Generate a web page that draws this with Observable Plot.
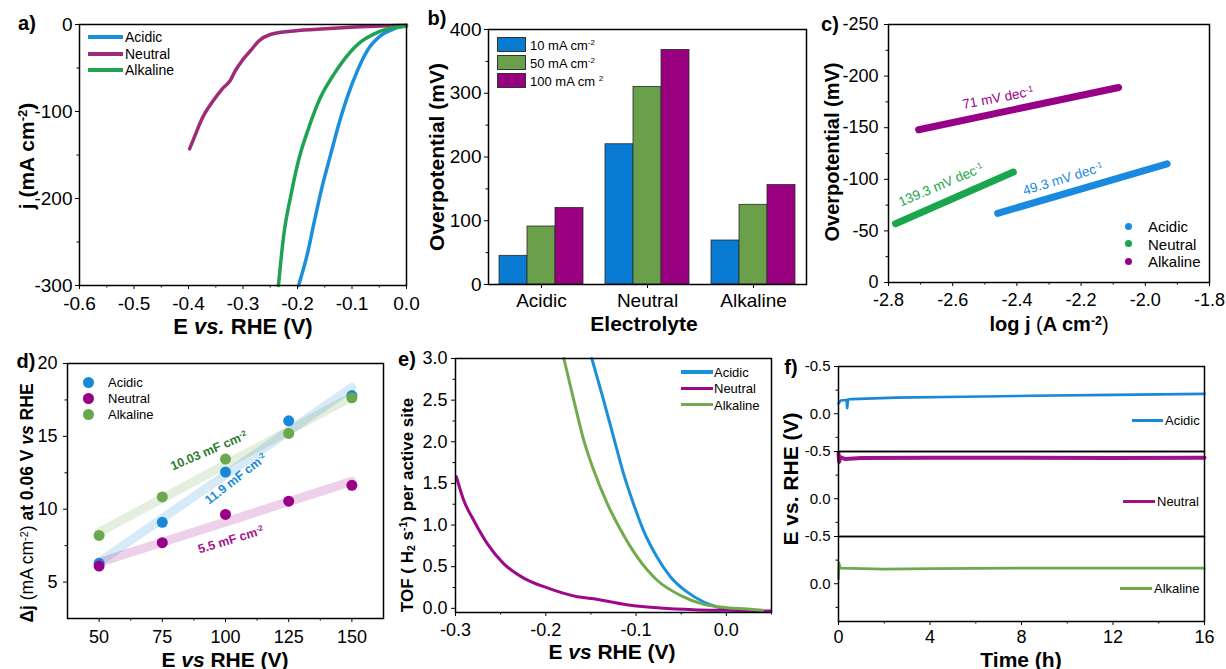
<!DOCTYPE html>
<html>
<head>
<meta charset="utf-8">
<script src="https://cdn.jsdelivr.net/npm/d3@7"></script>
<script src="https://cdn.jsdelivr.net/npm/@observablehq/plot@0.6"></script>
<style>
  html, body { margin: 0; padding: 0; background: #fff; overflow: hidden; }
  #fig { position: relative; width: 1226px; height: 669px; background: #fff; }
  #fig sup { font-size: 0.62em; vertical-align: 0.5em; line-height: 0; }
  #fig sub { font-size: 0.62em; vertical-align: -0.25em; line-height: 0; }
</style>
</head>
<body>
<div id="fig"></div>
<script>
// ---------------- DATA ----------------
const seriesNames = ["Acidic", "Neutral", "Alkaline"];

// (a) LSV curves: potential (V) and current density (mA cm-2)
const lsvAcidicE = [-0.198, -0.182, -0.170, -0.155, -0.139, -0.124, -0.109, -0.090, -0.072, -0.048, -0.023, 0.0];
const lsvAcidicJ = [-300, -264, -229, -187, -149, -114, -84, -53, -30, -13, -5, -1];
const lsvNeutralE = [-0.398, -0.387, -0.378, -0.369, -0.354, -0.338, -0.323, -0.314, -0.301, -0.286, -0.271, -0.250, -0.213, -0.164, -0.103, 0.0];
const lsvNeutralJ = [-143, -126, -112, -101, -87, -74, -64, -53, -41, -30, -19, -11.5, -7.7, -5.4, -3.1, -0.8];
const lsvAlkalineE = [-0.235, -0.225, -0.213, -0.198, -0.179, -0.158, -0.133, -0.109, -0.084, -0.060, -0.035, 0.0];
const lsvAlkalineJ = [-300, -241, -199, -156, -118, -84, -57, -36, -20, -11, -5, -2];
const aXTicks = [-0.6, -0.5, -0.4, -0.3, -0.2, -0.1, 0.0];
const aXMinor = [-0.55, -0.45, -0.35, -0.25, -0.15, -0.05];
const aYTicks = [0, -100, -200, -300];
const aYMinor = [-50, -150, -250];

// (b) overpotentials (mV)
const bCats = ["Acidic", "Neutral", "Alkaline"];
const bSeries = ["10 mA cm-2", "50 mA cm-2", "100 mA cm-2"];
const eta10 = [45, 220, 69];
const eta50 = [91, 310, 125];
const eta100 = [120, 368, 156];
const bYTicks = [0, 100, 200, 300, 400];
const bYMinor = [50, 150, 250, 350];

// (c) Tafel lines: log j and overpotential (mV)
const tafelAcidicX = [-2.460, -1.932];
const tafelAcidicY = [-67, -115];
const tafelNeutralX = [-2.778, -2.411];
const tafelNeutralY = [-57, -107];
const tafelAlkalineX = [-2.706, -2.083];
const tafelAlkalineY = [-148, -189];
const cXTicks = [-2.8, -2.6, -2.4, -2.2, -2.0, -1.8];
const cXMinor = [-2.7, -2.5, -2.3, -2.1, -1.9];
const cYTicks = [0, -50, -100, -150, -200, -250];
const cYMinor = [-25, -75, -125, -175, -225];
const cNotes = [
  {text: "71 mV dec<sup>-1</sup>", x: -2.456, y: -178, rot: -11, series: "Alkaline"},
  {text: "139.3 mV dec<sup>-1</sup>", x: -2.636, y: -94, rot: -23, series: "Neutral"},
  {text: "49.3 mV dec<sup>-1</sup>", x: -2.256, y: -99.5, rot: -17, series: "Acidic"}
];

// (d) double-layer capacitance
const dScanRates = [50, 75, 100, 125, 150];
const dAcidic = [6.3, 9.1, 12.55, 16.07, 17.8];
const dNeutral = [6.1, 7.7, 9.64, 10.55, 11.64];
const dAlkaline = [8.2, 10.84, 13.44, 15.2, 17.65];
const dXTicks = [50, 75, 100, 125, 150];
const dXMinor = [62.5, 87.5, 112.5, 137.5];
const dYTicks = [5, 10, 15, 20];
const dYMinor = [7.5, 12.5, 17.5];
const dNotes = [
  {text: "10.03 mF cm<sup>-2</sup>", x: 93.7, y: 13.98, rot: -23, color: "#2e7d32"},
  {text: "11.9 mF cm<sup>-2</sup>", x: 104.2, y: 12.02, rot: -38, color: "#1a8ad8"},
  {text: "5.5 mF cm<sup>-2</sup>", x: 102.4, y: 7.85, rot: -17, color: "#a0148c"}
];

// (e) TOF curves
const tofAcidicE = [-0.149, -0.136, -0.125, -0.114, -0.103, -0.092, -0.077, -0.062, -0.044, -0.025, -0.010, 0.008, 0.019];
const tofAcidicT = [3.0, 2.50, 2.06, 1.62, 1.26, 0.94, 0.62, 0.38, 0.20, 0.076, 0.016, -0.024, -0.032];
const tofNeutralE = [-0.299, -0.291, -0.280, -0.265, -0.247, -0.224, -0.202, -0.165, -0.147, -0.110, -0.073, -0.036, 0.001, 0.049];
const tofNeutralT = [1.58, 1.30, 1.06, 0.78, 0.54, 0.36, 0.26, 0.14, 0.116, 0.044, 0.004, -0.016, -0.024, -0.032];
const tofAlkalineE = [-0.180, -0.169, -0.158, -0.147, -0.132, -0.117, -0.099, -0.077, -0.051, -0.025, 0.001, 0.023, 0.040];
const tofAlkalineT = [3.0, 2.50, 2.02, 1.66, 1.26, 0.94, 0.62, 0.34, 0.156, 0.048, 0.008, -0.008, -0.024];
const eXTicks = [-0.3, -0.2, -0.1, 0.0];
const eXMinor = [-0.25, -0.15, -0.05, 0.05];
const eYTicks = [0, 0.5, 1.0, 1.5, 2.0, 2.5, 3.0];
const eYMinor = [0.25, 0.75, 1.25, 1.75, 2.25, 2.75];

// (f) stability, time (h) and potential (V)
const stabAcidicTime = [0, 0.1, 0.35, 0.38, 0.42, 0.6, 2.5, 5.5, 8.4, 12, 16];
const stabAcidicE = [-0.11, -0.14, -0.145, -0.06, -0.15, -0.155, -0.17, -0.18, -0.19, -0.20, -0.21];
const stabNeutralTime = [0, 0.03, 0.08, 0.3, 1, 4, 8, 12, 16];
const stabNeutralE = [-0.48, -0.39, -0.44, -0.42, -0.43, -0.435, -0.435, -0.43, -0.435];
const stabAlkalineTime = [0, 0.02, 0.08, 2, 4, 8, 12, 16];
const stabAlkalineE = [-0.05, -0.22, -0.165, -0.155, -0.16, -0.165, -0.165, -0.165];
const fXTicks = [0, 4, 8, 12, 16];
const fXMinor = [2, 6, 10, 14];
const fYTicks = [-0.5, 0.0];
const fYMinor = [-0.25, 0.25];

// ---------------- HELPERS ----------------
const ff = "'Liberation Sans', Arial, Helvetica, sans-serif";
const fig = document.getElementById("fig");
const zip = (name, xs, ys, kx, ky) => xs.map((v, i) => ({series: name, [kx]: v, [ky]: ys[i]}));
const f1 = d => d.toFixed(1);
const fi = d => String(d);
const blank = () => "";

function place(svg, left, top) {
  svg.style.position = "absolute";
  svg.style.left = left + "px";
  svg.style.top = top + "px";
  fig.appendChild(svg);
  return svg;
}
function txt(html, x, y, o = {}) {
  const d = document.createElement("div");
  d.innerHTML = html;
  Object.assign(d.style, {
    position: "absolute", left: x + "px", top: y + "px", whiteSpace: "nowrap",
    fontFamily: ff, fontSize: (o.size || 14) + "px", fontWeight: o.bold ? "bold" : "normal",
    color: o.color || "#000", lineHeight: "1",
    transform: `translate(${o.ax ?? -50}%, -50%) rotate(${o.rot || 0}deg)`
  });
  fig.appendChild(d);
  return d;
}
function legLine(x1, x2, y, color, w) {
  const d = document.createElement("div");
  Object.assign(d.style, {position: "absolute", left: x1 + "px", top: (y - w / 2) + "px",
    width: (x2 - x1) + "px", height: w + "px", background: color});
  fig.appendChild(d);
}
function legDot(cx, cy, r, color) {
  const d = document.createElement("div");
  Object.assign(d.style, {position: "absolute", left: (cx - r) + "px", top: (cy - r) + "px",
    width: 2 * r + "px", height: 2 * r + "px", borderRadius: "50%", background: color});
  fig.appendChild(d);
}
function legBox(x, y, w, h, color) {
  const d = document.createElement("div");
  Object.assign(d.style, {position: "absolute", left: x + "px", top: (y - h / 2) + "px",
    width: w + "px", height: h + "px", background: color, boxSizing: "border-box", border: "1px solid #333"});
  fig.appendChild(d);
}
const baseStyle = size => ({fontFamily: ff, fontSize: size + "px", color: "#000", background: "transparent", overflow: "visible"});
function axes(o) {
  return [
    Plot.axisX({ticks: o.xt, tickSize: 4, tickPadding: o.xp, tickFormat: o.xf, label: null, fontSize: o.xs}),
    Plot.axisX({ticks: o.xm, tickSize: 2.5, tickFormat: blank, label: null}),
    Plot.axisY({ticks: o.yt, tickSize: 4, tickPadding: o.yp, tickFormat: o.yf, label: null, fontSize: o.ys}),
    Plot.axisY({ticks: o.ym, tickSize: 2.5, tickFormat: blank, label: null})
  ];
}

// ---------------- (a) ----------------
const aColors = ["#1a8fdc", "#9e2a78", "#1fa350"];
const aRows = [
  ...zip("Acidic", lsvAcidicE, lsvAcidicJ, "E", "j"),
  ...zip("Neutral", lsvNeutralE, lsvNeutralJ, "E", "j"),
  ...zip("Alkaline", lsvAlkalineE, lsvAlkalineJ, "E", "j")
];
place(Plot.plot({
  width: 410, height: 340, marginLeft: 79, marginRight: 4, marginTop: 24, marginBottom: 55,
  style: baseStyle(19),
  x: {domain: [-0.6, 0]}, y: {domain: [-300, 0]},
  color: {domain: seriesNames, range: aColors},
  marks: [
    Plot.line(aRows, {x: "E", y: "j", z: "series", stroke: "series", strokeWidth: 3.5, curve: "monotone-x"}),
    Plot.frame({stroke: "#000", strokeWidth: 1.5}),
    ...axes({xt: aXTicks, xm: aXMinor, xf: f1, xp: 7, yt: aYTicks, ym: aYMinor, yf: fi, yp: 3})
  ]
}), 0, 0);
seriesNames.forEach((s, i) => { legLine(88, 123, 37 + i * 16.5, aColors[i], 4); txt(s, 125, 37 + i * 16.5, {size: 14, ax: 0}); });
txt("j (mA cm<sup>-2</sup>)", 26, 156, {size: 21, bold: true, rot: -90});
txt("E <i>vs.</i> RHE (V)", 243, 327, {size: 22, bold: true});
txt("a)", 27, 23, {size: 20, bold: true});

// ---------------- (b) ----------------
const bColors = ["#0a7bd2", "#6aa04a", "#990080"];
const bRows = bCats.flatMap((c, i) => [
  {cat: c, series: bSeries[0], value: eta10[i]},
  {cat: c, series: bSeries[1], value: eta50[i]},
  {cat: c, series: bSeries[2], value: eta100[i]}
]);
place(Plot.plot({
  width: 400, height: 340, marginLeft: 78, marginRight: 4, marginTop: 29, marginBottom: 56,
  style: baseStyle(19),
  fx: {domain: bCats, padding: 0, label: null},
  x: {domain: bSeries, paddingInner: 0, paddingOuter: 0.37, axis: null},
  y: {domain: [0, 400]},
  color: {domain: bSeries, range: bColors},
  marks: [
    Plot.barY(bRows, {fx: "cat", x: "series", y: "value", fill: "series", stroke: "#2a2a2a", strokeWidth: 0.8}),
    Plot.frame({facet: "super", stroke: "#000", strokeWidth: 1.5}),
    Plot.axisY({ticks: bYTicks, tickSize: 4, tickPadding: 3, tickFormat: fi, label: null}),
    Plot.axisY({ticks: bYMinor, tickSize: 2.5, tickFormat: blank, label: null}),
    Plot.axisFx({anchor: "bottom", tickSize: 4, tickPadding: 5, label: null})
  ]
}), 410, 0);
const bLeg = ["10 mA cm<sup>-2</sup>", "50 mA cm<sup>-2</sup>", "100 mA cm <sup>2</sup>"];
bLeg.forEach((s, i) => { legBox(497, 44 + i * 18, 29, 15, bColors[i]); txt(s, 530, 45 + i * 18, {size: 13, ax: 0}); });
txt("Overpotential (mV)", 436, 157, {size: 21, bold: true, rot: -90});
txt("Electrolyte", 644, 323, {size: 21, bold: true});
txt("b)", 437, 18, {size: 20, bold: true});

// ---------------- (c) ----------------
const cColors = ["#1a8ae0", "#1aa64c", "#990088"];
const cRows = [
  ...zip("Acidic", tafelAcidicX, tafelAcidicY, "x", "y"),
  ...zip("Neutral", tafelNeutralX, tafelNeutralY, "x", "y"),
  ...zip("Alkaline", tafelAlkalineX, tafelAlkalineY, "x", "y")
];
const cPlot = place(Plot.plot({
  width: 416, height: 340, marginLeft: 78, marginRight: 17, marginTop: 24, marginBottom: 58,
  style: baseStyle(18),
  x: {domain: [-2.8, -1.8]}, y: {domain: [0, -250]},
  color: {domain: seriesNames, range: cColors},
  marks: [
    Plot.line(cRows, {x: "x", y: "y", z: "series", stroke: "series", strokeWidth: 7, strokeLinecap: "round"}),
    Plot.frame({stroke: "#000", strokeWidth: 1.5}),
    ...axes({xt: cXTicks, xm: cXMinor, xf: f1, xp: 7, yt: cYTicks, ym: cYMinor, yf: fi, yp: 6})
  ]
}), 810, 0);
cNotes.forEach(n => {
  const col = cColors[seriesNames.indexOf(n.series)];
  txt(n.text, 810 + cPlot.scale("x").apply(n.x), cPlot.scale("y").apply(n.y), {size: 13.5, rot: n.rot, color: col});
});
seriesNames.forEach((s, i) => { legDot(1128, 226 + i * 17.5, 3.5, cColors[i]); txt(s, 1148, 226 + i * 17.5, {size: 15, ax: 0}); });
txt("Overpotential (mV)", 832, 152, {size: 20, bold: true, rot: -90});
txt("log j <span style='font-weight:normal'>(</span>A cm<sup>-2</sup><span style='font-weight:normal'>)</span>", 1049, 324, {size: 20, bold: true});
txt("c)", 830, 24, {size: 20, bold: true});

// ---------------- (d) ----------------
const dColors = ["#1a88d8", "#990088", "#6aa84f"];
const dRows = [
  ...zip("Acidic", dScanRates, dAcidic, "x", "y"),
  ...zip("Neutral", dScanRates, dNeutral, "x", "y"),
  ...zip("Alkaline", dScanRates, dAlkaline, "x", "y")
];
const dPlot = place(Plot.plot({
  width: 400, height: 329, marginLeft: 67, marginRight: 17, marginTop: 23, marginBottom: 51,
  style: baseStyle(18),
  x: {domain: [37.5, 162.5]}, y: {domain: [2.5, 20]},
  color: {domain: seriesNames, range: dColors},
  marks: [
    Plot.linearRegressionY(dRows, {x: "x", y: "y", stroke: "series", ci: 0, strokeWidth: 9, strokeOpacity: 0.18}),
    Plot.dot(dRows, {x: "x", y: "y", fill: "series", r: 5.5}),
    Plot.frame({stroke: "#000", strokeWidth: 1.5}),
    ...axes({xt: dXTicks, xm: dXMinor, xf: fi, xp: 8, yt: dYTicks, ym: dYMinor, yf: fi, yp: 6})
  ]
}), 0, 340);
dNotes.forEach(n => {
  txt(n.text, dPlot.scale("x").apply(n.x), 340 + dPlot.scale("y").apply(n.y), {size: 12.5, bold: true, rot: n.rot, color: n.color});
});
seriesNames.forEach((s, i) => { legDot(88, 382 + i * 16, 5.5, dColors[i]); txt(s, 108, 382 + i * 16, {size: 13, ax: 0}); });
txt("Δj <span style='font-weight:normal'>(mA cm<sup>-2</sup>)</span> at 0.06 V <i>vs</i> RHE", 28, 503, {size: 17.5, bold: true, rot: -90});
txt("E <i>vs</i> RHE (V)", 225, 659, {size: 21, bold: true});
txt("d)", 26, 361, {size: 20, bold: true});

// ---------------- (e) ----------------
const eColors = ["#1a90d8", "#9c0a8c", "#72ab4e"];
const eRows = [
  ...zip("Acidic", tofAcidicE, tofAcidicT, "E", "tof"),
  ...zip("Neutral", tofNeutralE, tofNeutralT, "E", "tof"),
  ...zip("Alkaline", tofAlkalineE, tofAlkalineT, "E", "tof")
];
place(Plot.plot({
  width: 390, height: 329, marginLeft: 55, marginRight: 19, marginTop: 18, marginBottom: 57,
  style: baseStyle(18),
  x: {domain: [-0.3, 0.05]}, y: {domain: [-0.05, 3]},
  color: {domain: seriesNames, range: eColors},
  marks: [
    Plot.line(eRows, {x: "E", y: "tof", z: "series", stroke: "series", strokeWidth: 3, curve: "monotone-x"}),
    Plot.frame({stroke: "#000", strokeWidth: 1.5}),
    ...axes({xt: eXTicks, xm: eXMinor, xf: f1, xp: 7, yt: eYTicks, ym: eYMinor, yf: f1, yp: 4})
  ]
}), 400, 340);
seriesNames.forEach((s, i) => { legLine(681, 713, 372 + i * 16.3, eColors[i], 3.5); txt(s, 714, 372 + i * 16.3, {size: 13, ax: 0}); });
txt("TOF ( H<sub>2</sub> s<sup>-1</sup>) per active site", 407, 505, {size: 17, bold: true, rot: -90});
txt("E <i>vs</i> RHE (V)", 612, 651, {size: 21, bold: true});
txt("e)", 407, 359, {size: 20, bold: true});

// ---------------- (f) ----------------
const fColors = ["#1a88d8", "#a0108a", "#70a850"];
const fRows = [
  ...zip("Acidic", stabAcidicTime, stabAcidicE, "t", "v"),
  ...zip("Neutral", stabNeutralTime, stabNeutralE, "t", "v"),
  ...zip("Alkaline", stabAlkalineTime, stabAlkalineE, "t", "v")
];
place(Plot.plot({
  width: 436, height: 329, marginLeft: 48, marginRight: 22, marginTop: 25, marginBottom: 48,
  style: baseStyle(18),
  fy: {domain: seriesNames, padding: 0, axis: null},
  x: {domain: [0, 16]}, y: {domain: [-0.5, 0.4], reverse: true},
  color: {domain: seriesNames, range: fColors},
  marks: [
    Plot.line(fRows, {x: "t", y: "v", fy: "series", z: "series", stroke: "series",
      strokeWidth: d => d.series === "Neutral" ? 4 : 2.6}),
    Plot.frame({stroke: "#000", strokeWidth: 1.5}),
    Plot.axisX({ticks: fXTicks, tickSize: 4, tickPadding: 5, tickFormat: fi, label: null}),
    Plot.axisX({ticks: fXMinor, tickSize: 2.5, tickFormat: blank, label: null}),
    Plot.axisY({ticks: fYTicks, tickSize: 4, tickPadding: 4, tickFormat: f1, label: null, fontSize: 15}),
    Plot.axisY({ticks: fYMinor, tickSize: 2.5, tickFormat: blank, label: null})
  ]
}), 790, 340);
legLine(1132, 1163, 420, fColors[0], 3); txt("Acidic", 1165, 420, {size: 13, ax: 0});
legLine(1123, 1155, 501, fColors[1], 3); txt("Neutral", 1157, 501, {size: 13, ax: 0});
legLine(1120, 1152, 588, fColors[2], 3); txt("Alkaline", 1154, 588, {size: 13, ax: 0});
txt("E vs. RHE (V)", 790, 479, {size: 21, bold: true, rot: -90});
txt("Time (h)", 1021, 659, {size: 21, bold: true});
txt("f)", 791, 367, {size: 20, bold: true});
</script>
</body>
</html>
